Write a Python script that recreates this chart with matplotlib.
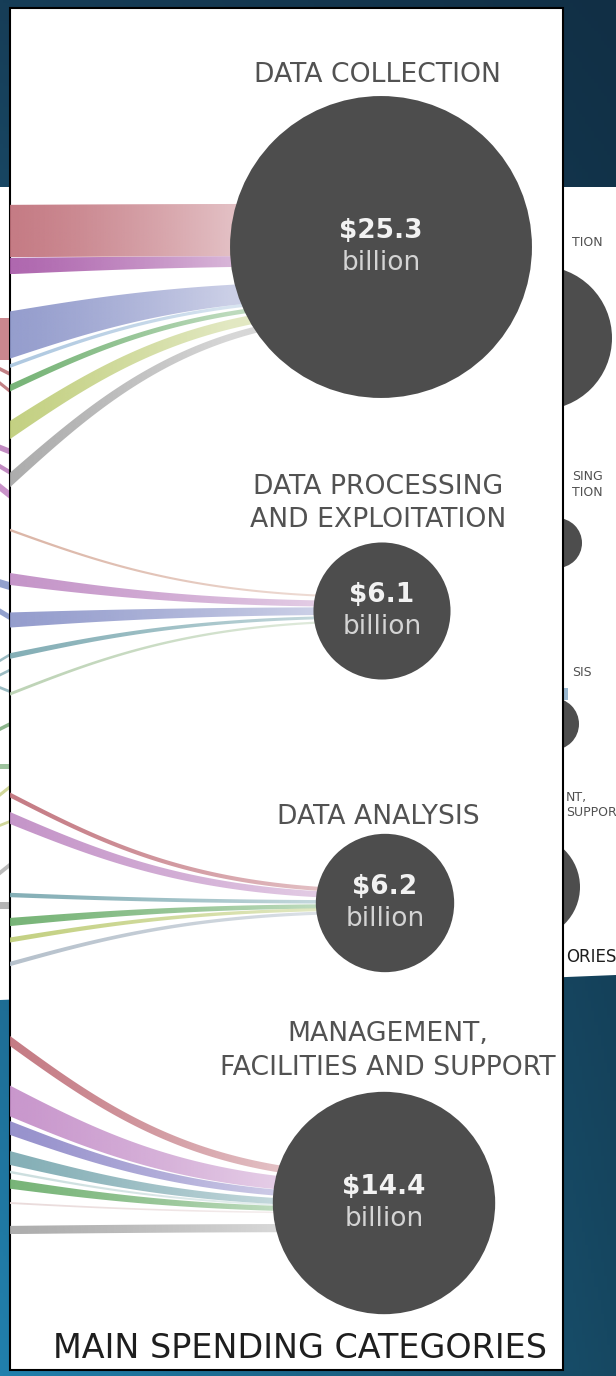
import numpy as np
import matplotlib.pyplot as plt
from matplotlib.patches import Rectangle, Circle, Polygon
from matplotlib.colors import to_rgb

W, H = 616, 1376

# ---- chart data ----
categories = ["DATA COLLECTION", "DATA PROCESSING\nAND EXPLOITATION",
              "DATA ANALYSIS", "MANAGEMENT,\nFACILITIES AND SUPPORT"]
amounts = [25.3, 6.1, 6.2, 14.4]            # $ billion
amount_text = ["$25.3", "$6.1", "$6.2", "$14.4"]
footer = "MAIN SPENDING CATEGORIES"

# flows entering each category (target index, estimated $ billion)
flow_target = [0, 0, 0, 0, 0, 0, 0,
               1, 1, 1, 1, 1,
               2, 2, 2, 2, 2, 2,
               3, 3, 3, 3, 3, 3, 3, 3]
flow_value = [8.3, 2.6, 7.5, 0.6, 1.1, 2.9, 2.3,
              0.4, 1.9, 2.4, 0.9, 0.5,
              0.8, 1.9, 0.7, 1.3, 0.8, 0.7,
              1.6, 4.9, 2.2, 2.2, 0.4, 1.5, 0.3, 1.3]

# text fragments of the screenshot peeking out right of the panel
peek_text = ["TION", "SING", "TION", "SIS", "NT,", "SUPPOR", "ORIES"]

# ---- layout ----
PX_PER_B = 6.3
PANEL_X0, PANEL_Y0, PANEL_X1, PANEL_Y1 = 10, 8, 563, 1370
circle_x = [381, 382, 385, 384]
circle_y = [247, 611, 903, 1203]
label_x = [377, 378, 378, 388]
label_y = [[75], [487, 520], [817], [1034, 1068]]

flow_y_in = [231, 266, 335, 366, 388, 430, 480,
             530, 579, 620, 656, 694,
             795, 818, 895, 922, 940, 964,
             1041, 1101, 1128, 1158, 1172, 1184, 1203, 1230]
flow_y_out = [230, 261, 289, 298, 302, 308, 315,
              597, 604, 611, 617, 621,
              891, 896, 902, 906, 909, 912,
              1177, 1188, 1197, 1204, 1207, 1210, 1213, 1228]
flow_taper = [1.0, 0.6, 0.35, 0.8, 0.6, 0.45, 0.4,
              0.8, 0.5, 0.5, 0.5, 0.7,
              0.8, 0.5, 0.8, 0.5, 0.6, 0.7,
              0.7, 0.4, 0.4, 0.4, 0.7, 0.5, 0.8, 1.0]
flow_color = ['#c0707a', '#a85aa8', '#8c95c9', '#a8c4de', '#6cae6c', '#bfcd78', '#a6a6a6',
              '#d9b0a0', '#c08cc4', '#8c95c9', '#7aa8b0', '#b8d0b0',
              '#c0707a', '#c08cc4', '#7aa8b0', '#6cae6c', '#bfcd78', '#b0bcc8',
              '#c0707a', '#c48ec8', '#8e88c8', '#7aa8b0', '#c8dcdc', '#6cae6c', '#e8d8d8', '#a6a6a6']

# cropped flows of the screenshot behind, visible left of the panel
strip_y = [339, 372, 388, 450, 470, 492, 585, 615, 657, 672, 690, 726, 766, 790, 823, 868, 905]
strip_w = [42, 4, 4, 6, 5, 8, 8, 6, 3, 3, 3, 4, 5, 4, 3, 5, 7]
strip_slope = [0, 0.5, 0.8, 0.4, 0.6, 0.8, 0.3, 0.6, -0.6, -0.5, 0.4, -0.5, 0, -0.8, -0.4, -0.8, 0]
strip_color = ['#c2727a', '#b86a70', '#b86a70', '#b878b8', '#b878b8', '#c080c0', '#7f8fc4',
               '#7f8fc4', '#8ab0b8', '#8ab0b8', '#8ab0b8', '#78a878', '#8cb88c', '#c8d088',
               '#c8d088', '#b0b0b0', '#a8a8a8']

# screenshot behind the panel (slightly skewed bottom edge)
BG_CORNERS = [(0, 187), (W, 187), (W, 975), (0, 1000)]
peek_x = [572, 572, 572, 572, 566, 566, 566]
peek_y = [242, 477, 492, 672, 797, 812, 957]
peek_size = [9, 9, 9, 9, 9, 9, 12]
peek_circle_x = [540, 557, 553, 528]
peek_circle_y = [338, 543, 724, 887]
peek_circle_r = [72, 25, 26, 52]


def radius(v):
    return 32.2 * np.sqrt(v) - 11


def band_edge(y_in, y_out, xe):
    # S-curve whose middle sits on the panel's left edge
    xs = PANEL_X0 - (xe - PANEL_X0)
    tt = np.linspace(0, 1, 600)
    bx = xs + (xe - xs) * (1.5 * tt - 1.5 * tt ** 2 + tt ** 3)
    fy = 3 * tt ** 2 - 2 * tt ** 3
    f = np.interp(PANEL_X0, bx, fy)
    ys = (y_in - f * y_out) / (1 - f)
    by = ys + (y_out - ys) * fy
    keep = bx >= PANEL_X0 - 2
    return bx[keep], by[keep]


fig = plt.figure(figsize=(W / 100, H / 100), dpi=100)
ax = fig.add_axes([0, 0, 1, 1])
ax.set_xlim(0, W)
ax.set_ylim(H, 0)
ax.axis('off')

# dark blue backdrop
gx, gy = np.meshgrid(np.linspace(0, 1, 200), np.linspace(0, 1, 400))
tl, tr, bl, br = [np.array(to_rgb(c)) for c in ('#163d57', '#112f45', '#2180ad', '#164862')]
top = tl * (1 - gx[..., None]) + tr * gx[..., None]
bot = bl * (1 - gx[..., None]) + br * gx[..., None]
ax.imshow(top * (1 - gy[..., None]) + bot * gy[..., None], extent=(0, W, H, 0),
          aspect='auto', zorder=0)

# screenshot behind
bg_shape = Polygon(BG_CORNERS, closed=True, facecolor='white', edgecolor='none', zorder=1)
ax.add_patch(bg_shape)
for y, w, s, c in zip(strip_y, strip_w, strip_slope, strip_color):
    ax.add_patch(Polygon([(0, y - w / 2 - 6 * s), (12, y - w / 2 + 6 * s),
                          (12, y + w / 2 + 6 * s), (0, y + w / 2 - 6 * s)],
                         closed=True, facecolor=c, alpha=0.85, edgecolor='none', zorder=2))
for x, y, r in zip(peek_circle_x, peek_circle_y, peek_circle_r):
    ax.add_patch(Circle((x, y), r, facecolor='#4d4d4d', edgecolor='none', zorder=2))
ax.add_patch(Rectangle((564, 688), 4, 12, facecolor='#9ab8d0', edgecolor='none', zorder=2))
for txt, x, y, fs in zip(peek_text, peek_x, peek_y, peek_size):
    ax.text(x, y, txt, ha='left', va='center', fontsize=fs,
            color='#1e1e1e' if fs > 10 else '#505050', zorder=2)

# main panel
ax.add_patch(Rectangle((PANEL_X0, PANEL_Y0), PANEL_X1 - PANEL_X0, PANEL_Y1 - PANEL_Y0,
                       facecolor='white', edgecolor='black', linewidth=1.5, zorder=2.5))

# flows, fading out towards the circles
for tgt, val, yi, yo, tp, col in zip(flow_target, flow_value, flow_y_in, flow_y_out,
                                     flow_taper, flow_color):
    cx, cy, r = circle_x[tgt], circle_y[tgt], radius(amounts[tgt])
    w_in = val * PX_PER_B
    w_out = w_in * tp
    tx, ty = band_edge(yi - w_in / 2, yo - w_out / 2, cx)
    bx, by = band_edge(yi + w_in / 2, yo + w_out / 2, cx)
    pts = np.vstack([np.column_stack([tx, ty]), np.column_stack([bx, by])[::-1]])
    poly = Polygon(pts, closed=True, transform=ax.transData)
    xs = np.linspace(PANEL_X0, cx, 256)
    frac = np.clip((xs - PANEL_X0) / (cx - r - PANEL_X0), 0, 1)
    img = np.zeros((1, 256, 4))
    img[..., :3] = to_rgb(col)
    img[0, :, 3] = 0.92 - 0.47 * frac ** 1.3
    im = ax.imshow(img, extent=(PANEL_X0, cx, pts[:, 1].max(), pts[:, 1].min()),
                   aspect='auto', interpolation='bilinear', zorder=3)
    im.set_clip_path(poly)

# category circles and labels
for i, cat in enumerate(categories):
    cx, cy = circle_x[i], circle_y[i]
    ax.add_patch(Circle((cx, cy), radius(amounts[i]), facecolor='#4d4d4d',
                        edgecolor='none', zorder=4))
    ax.text(cx, cy - 16, amount_text[i], ha='center', va='center', fontsize=19,
            fontweight='bold', color='#f2f2f2', zorder=5)
    ax.text(cx, cy + 16, 'billion', ha='center', va='center', fontsize=19,
            color='#d4d4d4', zorder=5)
    for line, ly in zip(cat.split('\n'), label_y[i]):
        ax.text(label_x[i], ly, line, ha='center', va='center', fontsize=19.2,
                color='#525252', zorder=5)

ax.text(300, 1348, footer, ha='center', va='center', fontsize=24, color='#1e1e1e', zorder=5)

ax.set_xlim(0, W)
ax.set_ylim(H, 0)
fig.savefig('out.png', dpi=100)
